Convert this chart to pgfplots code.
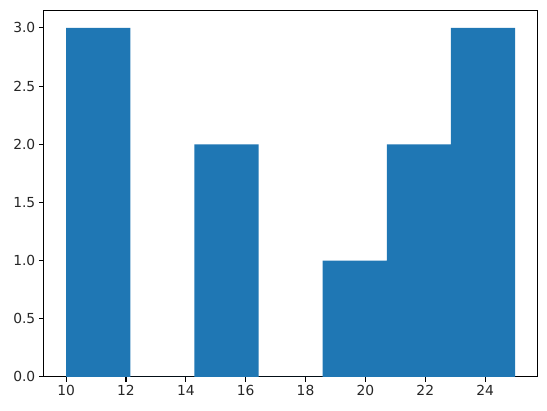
\documentclass[border=0pt]{standalone}
\usepackage{pgfplots}
\pgfplotsset{compat=1.18}
\usepackage{fontspec}
\setmainfont{DejaVu Sans}
\definecolor{mplblue}{HTML}{1F77B4}
\begin{document}
\begin{tikzpicture}
\begin{axis}[
  scale only axis,
  width=496pt, height=368pt,
  xmin=9.25, xmax=25.75,
  ymin=0, ymax=3.15,
  xtick={10,12,14,16,18,20,22,24},
  ytick={0,0.5,1,1.5,2,2.5,3},
  yticklabel style={/pgf/number format/.cd, fixed, fixed zerofill, precision=1},
  /pgf/number format/assume math mode=true,
  tick label style={font=\fontsize{13.9}{16}\selectfont, text=black!85},
  tick align=outside,
  major tick length=4.9pt,
  xtick pos=bottom, ytick pos=left,
  axis line style={line width=1.1pt},
  every tick/.style={black, line width=1.1pt},
]
\addplot[ybar interval, fill=mplblue, draw=none] coordinates {
  (10,3) (12.142857,0) (14.285714,2) (16.428571,0) (18.571429,1) (20.714286,2) (22.857143,3) (25,3)
};
\end{axis}
\path ([xshift=-10pt,yshift=-11pt]current bounding box.south west) rectangle ([xshift=9pt,yshift=10pt]current bounding box.north east);
\end{tikzpicture}
\end{document}
